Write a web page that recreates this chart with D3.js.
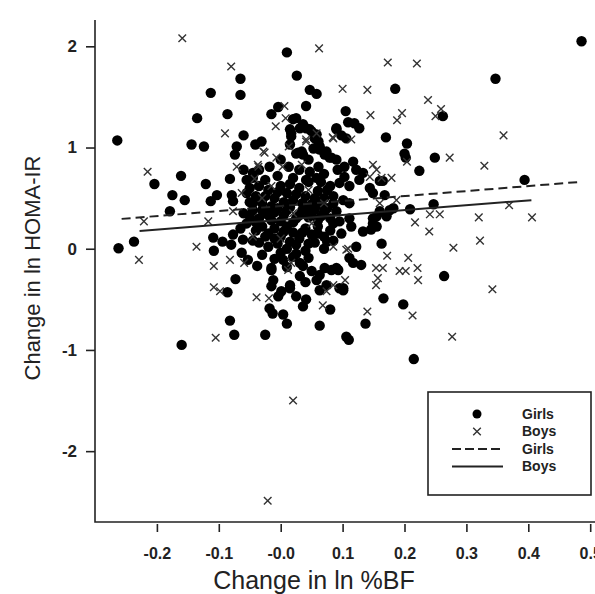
<!DOCTYPE html>
<html>
<head>
<meta charset="utf-8">
<script src="https://cdn.jsdelivr.net/npm/d3@7"></script>
<style>
  body { margin: 0; background: #fff; }
  svg { font-family: "Liberation Sans", Arial, sans-serif; }
</style>
</head>
<body>
<div class="vis-scatter"></div>
<script>
// girls: [change ln %BF, change ln HOMA-IR]
const girls = [
  [-0.264,1.07],[0.010,1.94],[-0.065,1.68],[-0.113,1.54],[-0.065,1.52],[0.026,1.71],[0.047,1.57],[0.058,1.53],
  [0.041,1.41],[-0.004,1.40],[-0.015,1.33],[-0.086,1.33],[-0.135,1.29],[-0.060,1.12],[-0.144,1.03],[-0.124,1.01],
  [-0.071,1.01],[-0.074,0.93],[-0.041,1.03],[-0.031,1.06],[0.025,1.29],[0.036,1.23],[0.047,1.18],[0.058,1.13],
  [0.015,1.18],[0.017,1.11],[0.028,0.95],[0.036,0.93],[0.063,1.01],[0.074,0.96],[0.082,0.90],[0.090,1.18],
  [-0.018,0.81],[0.013,0.81],[-0.204,0.64],[-0.161,0.72],[-0.121,0.64],[-0.082,0.69],[-0.055,0.68],[-0.045,0.75],
  [-0.175,0.53],[-0.155,0.48],[-0.103,0.53],[-0.113,0.47],[-0.079,0.53],[-0.077,0.47],[-0.179,0.37],
  [-0.262,0.005],[-0.237,0.07],
  [-0.109,0.11],[-0.108,-0.02],[-0.094,0.07],[-0.080,0.04],[-0.077,0.14],[-0.061,0.09],[-0.063,-0.04],[-0.053,-0.11],
  [-0.038,-0.17],[-0.073,-0.30],[-0.086,-0.43],[-0.015,-0.21],[-0.012,-0.31],[-0.015,-0.37],[-0.018,-0.59],[-0.013,-0.64],
  [0.004,-0.65],[0.010,-0.74],[0.001,-0.42],[0.015,-0.39],[0.025,-0.47],[0.036,-0.57],[0.041,-0.50],[-0.082,-0.71],
  [-0.075,-0.85],[-0.160,-0.95],[-0.025,-0.85],[0.063,-0.76],[0.080,-0.60],
  [0.486,2.05],[0.347,1.68],[0.185,1.58],[0.262,1.31],[0.105,1.36],[0.090,1.19],[0.109,1.25],[0.119,1.24],
  [0.127,1.19],[0.098,1.12],[0.106,1.09],[0.170,1.10],[0.204,1.04],[0.200,0.94],[0.202,0.90],[0.249,0.90],
  [0.224,0.77],[0.394,0.68],[0.247,0.44],[0.209,0.39],
  [0.090,0.88],[0.092,0.78],[0.103,0.81],[0.117,0.86],[0.122,0.78],[0.103,0.71],[0.095,0.65],[0.111,0.62],
  [0.127,0.68],[0.133,0.75],[0.144,0.60],[0.160,0.67],[0.165,0.67],[0.149,0.55],[0.168,0.53],[0.085,0.52],
  [0.101,0.48],[0.111,0.45],[0.160,0.37],[0.176,0.38],[0.171,0.32],[0.090,0.37],[0.111,0.30],[0.095,0.27],
  [0.149,0.30],[0.155,0.22],
  [0.163,0.05],[0.264,-0.27],[0.166,-0.49],[0.198,-0.55],[0.137,-0.74],[0.110,-0.90],[0.215,-1.09],
  [0.093,-0.21],[0.101,-0.39],[0.122,0.02],[0.111,-0.09],[0.130,-0.16],[0.117,-0.14],
  [0.085,0.25],[0.114,0.22],[0.098,0.15],[0.149,0.25],[0.155,0.32],[0.182,0.40],[0.146,0.19],[0.133,0.17],
  [0.020,1.28],[0.031,1.19],[0.017,1.14],[0.041,1.19],[0.050,1.16],[0.055,1.09],[0.061,1.06],[0.015,1.03],
  [0.025,0.94],[0.034,0.96],[0.053,0.99],[0.063,0.98],[0.071,0.93],[0.079,0.90],
  [0.047,0.76],[0.061,0.81],[0.058,0.70],[0.041,0.68],
  [-0.015,-0.19],[0.004,-0.11],[-0.004,-0.47],[0.015,-0.36],[0.031,-0.14],[0.031,-0.27],[0.036,-0.17],
  [0.058,-0.31],[0.063,-0.26],[0.071,-0.19],[0.082,-0.21],[0.090,-0.19],[0.095,-0.39],[0.074,-0.36],[0.063,-0.41],
  [0.101,-0.41],[0.106,-0.87],
  // dense middle
  [-0.050,0.60],[-0.040,0.52],[-0.030,0.45],[-0.020,0.58],[-0.010,0.50],[0.000,0.62],[0.010,0.55],[0.020,0.48],
  [0.030,0.60],[0.040,0.52],[0.050,0.44],[0.060,0.57],[0.070,0.50],[0.080,0.62],[-0.045,0.38],[-0.035,0.30],
  [-0.025,0.36],[-0.015,0.28],[-0.005,0.40],[0.005,0.33],[0.015,0.41],[0.025,0.30],[0.035,0.38],[0.045,0.31],
  [0.055,0.39],[0.065,0.32],[0.075,0.40],[-0.055,0.25],[-0.040,0.18],[-0.030,0.22],[-0.020,0.15],[-0.010,0.20],
  [0.000,0.12],[0.010,0.22],[0.020,0.16],[0.030,0.10],[0.040,0.20],[0.050,0.14],[0.060,0.22],[0.070,0.12],
  [0.080,0.18],[-0.035,0.06],[-0.020,0.02],[-0.005,0.05],[0.010,0.00],[0.025,0.04],[0.040,-0.02],[0.055,0.06],
  [0.070,0.00],[0.085,0.08],[-0.045,0.70],[-0.025,0.68],[-0.005,0.72],[0.020,0.70],[0.030,0.78],[0.065,0.66],
  [-0.030,-0.06],[0.000,-0.04],[0.020,-0.08],[0.045,-0.09],[-0.050,0.46],[-0.060,0.35],[-0.065,0.20],
  [-0.055,0.55],[-0.045,0.45],[-0.035,0.62],[-0.025,0.52],[-0.015,0.42],[-0.005,0.56],[0.005,0.46],[0.015,0.64],
  [0.025,0.54],[0.035,0.45],[0.045,0.66],[0.055,0.50],[0.065,0.44],[0.075,0.58],[0.085,0.45],
  [-0.050,0.32],[-0.040,0.26],[-0.030,0.38],[-0.020,0.33],[-0.010,0.36],[0.000,0.27],[0.010,0.38],[0.020,0.26],
  [0.030,0.33],[0.040,0.40],[0.050,0.35],[0.060,0.28],[0.070,0.36],[0.080,0.30],
  [-0.045,0.08],[-0.025,0.12],[-0.010,0.10],[0.005,0.17],[0.015,0.07],[0.035,0.16],[0.045,0.05],[0.060,0.15],
  [0.075,0.07],[-0.010,-0.10],[0.010,-0.18],[0.025,-0.05],[0.050,-0.22],[0.040,-0.33],[-0.035,0.78],[0.000,0.88],
  [0.045,0.88],[0.070,0.74],[-0.060,0.78]
];

const boys = [
  [-0.159,2.08],[0.062,1.98],[-0.080,1.80],[0.006,1.41],[-0.008,1.21],[0.008,1.29],[-0.090,1.14],[0.013,1.01],
  [0.041,1.08],[0.058,1.14],[0.085,1.09],[-0.071,0.81],[-0.037,0.83],[-0.026,0.95],[-0.007,0.90],[0.003,0.81],
  [-0.215,0.76],[-0.077,0.37],[-0.063,0.55],[-0.221,0.27],[-0.117,0.27],[-0.229,-0.11],
  [-0.136,0.02],[-0.108,-0.17],[-0.082,-0.11],[-0.059,-0.14],[-0.108,-0.38],[-0.098,-0.42],[-0.039,-0.48],[-0.019,-0.49],
  [-0.105,-0.88],[0.074,-0.42],[0.068,-0.56],[0.020,-1.50],[-0.021,-2.49],
  [0.173,1.84],[0.220,1.83],[0.100,1.58],[0.140,1.57],[0.238,1.47],[0.259,1.38],[0.250,1.31],[0.196,1.34],
  [0.188,1.27],[0.145,1.32],[0.084,1.10],[0.114,1.08],[0.360,1.12],[0.204,0.86],[0.273,0.90],[0.329,0.82],
  [0.369,0.43],[0.406,0.31],[0.320,0.31],[0.241,0.34],[0.257,0.34],[0.217,0.26],
  [0.149,0.83],[0.155,0.78],[0.163,0.70],[0.179,0.70],[0.144,0.71],[0.160,0.45],[0.187,0.48],
  [0.240,0.17],[0.322,0.08],[0.279,0.01],[0.172,-0.07],[0.206,-0.09],[0.154,-0.19],[0.165,-0.19],[0.192,-0.22],
  [0.202,-0.22],[0.221,-0.19],[0.222,-0.31],[0.157,-0.29],[0.154,-0.36],[0.342,-0.40],[0.140,-0.62],[0.213,-0.66],
  [0.277,-0.87],[0.085,-0.36],[0.104,-0.31],[0.109,0.00],
  [0.041,1.06],[-0.028,0.96],[-0.036,0.81],[-0.042,0.69],[0.034,0.83],
  [0.012,-0.21],[0.017,-0.14],[0.085,0.02],[0.106,-0.01],
  [-0.030,0.50],[0.020,0.35],[0.050,0.25],[0.000,0.10],[-0.015,0.62],[0.045,0.58],[0.070,0.45],[-0.045,0.12]
];

// fitted lines (end points)
const girlsFit = [[-0.257,0.295],[0.483,0.66]];
const boysFit = [[-0.228,0.176],[0.405,0.48]];

const xTicks = [-0.2,-0.1,0,0.1,0.2,0.3,0.4,0.5];
const xTickLabels = ["-0.2","-0.1","-0.0","0.1","0.2","0.3","0.4","0.5"];
const yTicks = [-2,-1,0,1,2];

const legendItems = [
  {label: "Girls", kind: "dot"},
  {label: "Boys", kind: "cross"},
  {label: "Girls", kind: "dash"},
  {label: "Boys", kind: "solid"}
];

const W = 595, H = 594;
const plotLeft = 95, plotBottom = 522, plotTop = 20;

const svg = d3.select('.vis-scatter').append('svg')
    .attr('width', W)
    .attr('height', H);

const x = d3.scaleLinear().domain([-0.3, 0.53]).range([plotLeft, plotLeft + 0.83 * 619]);
const y = d3.scaleLinear().domain([-2.7, 2.26]).range([plotBottom, plotTop]);

// L shaped frame
svg.append("path")
    .attr("d", "M" + plotLeft + "," + plotTop + "V" + plotBottom + "H" + W)
    .attr("fill", "none")
    .attr("stroke", "#222")
    .attr("stroke-width", 1.6);

// x axis ticks + labels
const xAxis = d3.axisBottom(x)
    .tickValues(xTicks)
    .tickSize(8)
    .tickFormat((d, i) => xTickLabels[i]);
const gx = svg.append("g")
    .attr("transform", "translate(0," + (plotBottom + 2) + ")")
    .call(xAxis);
gx.select(".domain").remove();
gx.selectAll("line").attr("stroke", "#222").attr("stroke-width", 1.6);
gx.selectAll("text")
    .attr("y", 24)
    .attr("fill", "#222")
    .style("font-size", "16px")
    .style("font-weight", "bold");

// y axis
const yAxis = d3.axisLeft(y).tickValues(yTicks).tickSize(9).tickFormat(d => String(d));
const gy = svg.append("g")
    .attr("transform", "translate(" + plotLeft + ",0)")
    .call(yAxis);
gy.select(".domain").remove();
gy.selectAll("line").attr("stroke", "#222").attr("stroke-width", 1.6);
gy.selectAll("text")
    .attr("x", -18)
    .attr("fill", "#222")
    .style("font-size", "17px")
    .style("font-weight", "bold");

// titles
svg.append("text")
    .attr("x", 314).attr("y", 589)
    .attr("text-anchor", "middle")
    .attr("fill", "#222")
    .style("font-size", "25px")
    .text("Change in ln %BF");
svg.append("text")
    .attr("transform", "translate(40,268) rotate(-90)")
    .attr("text-anchor", "middle")
    .attr("fill", "#222")
    .style("font-size", "22px")
    .text("Change in ln HOMA-IR");

// points
svg.append("g").selectAll("circle")
  .data(girls)
  .enter()
  .append("circle")
    .attr("cx", d => x(d[0]))
    .attr("cy", d => y(d[1]))
    .attr("r", 5.2)
    .attr("fill", "#000");

const cross = "M-3.8,-3.8L3.8,3.8M-3.8,3.8L3.8,-3.8";
svg.append("g").selectAll("path")
  .data(boys)
  .enter()
  .append("path")
    .attr("d", cross)
    .attr("transform", d => "translate(" + x(d[0]) + "," + y(d[1]) + ")")
    .attr("stroke", "#333")
    .attr("stroke-width", 1.4)
    .attr("fill", "none");

// regression lines
const line = d3.line().x(d => x(d[0])).y(d => y(d[1]));
svg.append("path").datum(girlsFit)
    .attr("d", line)
    .attr("stroke", "#222").attr("stroke-width", 2).attr("fill", "none")
    .attr("stroke-dasharray", "9,5");
svg.append("path").datum(boysFit)
    .attr("d", line)
    .attr("stroke", "#222").attr("stroke-width", 2).attr("fill", "none");

// Handmade legend
const lg = svg.append("g").attr("transform", "translate(428,392)");
lg.append("rect").attr("width", 163).attr("height", 103)
    .attr("fill", "#fff").attr("stroke", "#222").attr("stroke-width", 1.6);
legendItems.forEach((d, i) => {
    const cy = 22 + i * 17.5;
    if (d.kind === "dot") lg.append("circle").attr("cx", 49).attr("cy", cy).attr("r", 4.5).attr("fill", "#000");
    if (d.kind === "cross") lg.append("path").attr("d", cross).attr("transform", "translate(49," + cy + ")")
        .attr("stroke", "#333").attr("stroke-width", 1.4);
    if (d.kind === "dash") lg.append("line").attr("x1", 24).attr("x2", 75).attr("y1", cy).attr("y2", cy)
        .attr("stroke", "#222").attr("stroke-width", 2).attr("stroke-dasharray", "9,4");
    if (d.kind === "solid") lg.append("line").attr("x1", 24).attr("x2", 75).attr("y1", cy).attr("y2", cy)
        .attr("stroke", "#222").attr("stroke-width", 2);
    lg.append("text").attr("x", 94).attr("y", cy).attr("dy", "0.35em")
        .attr("fill", "#222")
        .style("font-size", "14px")
        .style("font-weight", "bold")
        .text(d.label);
});
</script>
</body>
</html>
